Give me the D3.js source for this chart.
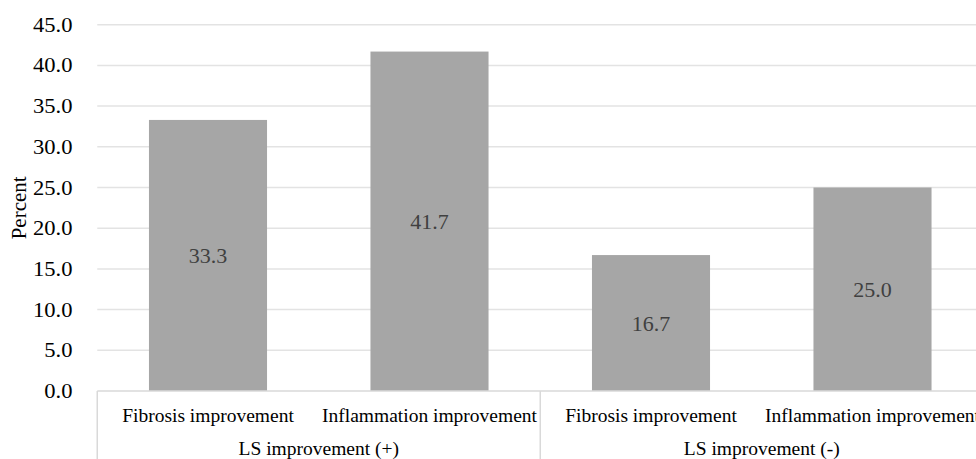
<!DOCTYPE html>
<html><head><meta charset="utf-8">
<script src="https://cdn.jsdelivr.net/npm/d3@7"></script>
<style>body{margin:0;background:#fff;}svg{display:block;} text{font-family:'Liberation Serif','Times New Roman','DejaVu Serif',serif;}</style>
</head><body>
<svg id="c" width="976" height="459"></svg>
<script>
const groups = ["LS improvement (+)", "LS improvement (-)"];
const categories = ["Fibrosis improvement", "Inflammation improvement"];
const values = [[33.3, 41.7], [16.7, 25.0]];
const yTicks = [0, 5, 10, 15, 20, 25, 30, 35, 40, 45];
const yTitle = "Percent";

(function () {
const FONT = "'Liberation Serif', 'Times New Roman', 'DejaVu Serif', serif";
const svg = d3.select("#c").attr("font-family", FONT);
const pLeft = 97.25, pRight = 983.25, pTop = 24.7, pBottom = 391;
const y = d3.scaleLinear().domain([0, 45]).range([pBottom, pTop]);
const gx = d3.scaleBand().domain(groups).range([pLeft, pRight]).padding(0);
const ix = d3.scaleBand().domain(categories).range([0, gx.bandwidth()]).paddingInner(0.467).paddingOuter(0.2335);

svg.append("g").selectAll("line").data(yTicks.filter(d => d > 0)).join("line")
  .attr("x1", pLeft).attr("x2", pRight).attr("y1", d => y(d)).attr("y2", d => y(d))
  .attr("stroke", "#e3e3e3").attr("stroke-width", 1.5);

svg.append("g").selectAll("text").data(yTicks).join("text")
  .attr("font-family", FONT)
  .attr("transform", d => `translate(72.5,${y(d)}) scale(1.13,1)`).attr("dy", "0.35em")
  .attr("text-anchor", "end").attr("font-size", 20).attr("fill", "#000")
  .text(d => d3.format(".1f")(d));

svg.append("text").attr("font-family", FONT)
  .attr("transform", `translate(26,${(pTop + pBottom) / 2}) rotate(-90)`)
  .attr("text-anchor", "middle").attr("font-size", 21).attr("fill", "#000").text(yTitle);

const rows = [];
groups.forEach((g, gi) => categories.forEach((c, ci) => rows.push({g, c, v: values[gi][ci]})));
svg.append("g").selectAll("rect").data(rows).join("rect")
  .attr("x", d => gx(d.g) + ix(d.c)).attr("width", ix.bandwidth())
  .attr("y", d => y(d.v)).attr("height", d => y(0) - y(d.v))
  .attr("fill", "#a6a6a6");

svg.append("g").selectAll("text").data(rows).join("text")
  .attr("font-family", FONT)
  .attr("x", d => gx(d.g) + ix(d.c) + ix.bandwidth() / 2)
  .attr("y", d => (y(d.v) + y(0)) / 2).attr("dy", "0.35em")
  .attr("text-anchor", "middle").attr("font-size", 22).attr("fill", "#404040")
  .text(d => d3.format(".1f")(d.v));

const ax = svg.append("g").attr("stroke", "#d9d9d9").attr("stroke-width", 1.5);
ax.append("line").attr("x1", pLeft).attr("x2", pRight).attr("y1", pBottom).attr("y2", pBottom);
[pLeft, ...groups.map(g => gx(g) + gx.bandwidth())].forEach(xv => {
  ax.append("line").attr("x1", xv).attr("x2", xv).attr("y1", pBottom).attr("y2", 462);
});

svg.append("g").selectAll("text").data(rows).join("text")
  .attr("font-family", FONT)
  .attr("x", d => gx(d.g) + ix(d.c) + ix.bandwidth() / 2).attr("y", 415.5).attr("dy", "0.35em")
  .attr("text-anchor", "middle").attr("font-size", 19.5).attr("fill", "#000").text(d => d.c);

svg.append("g").selectAll("text").data(groups).join("text")
  .attr("font-family", FONT)
  .attr("x", g => gx(g) + gx.bandwidth() / 2).attr("y", 448.5).attr("dy", "0.35em")
  .attr("text-anchor", "middle").attr("font-size", 19.5).attr("fill", "#000").text(g => g);
})();
</script>
</body></html>
